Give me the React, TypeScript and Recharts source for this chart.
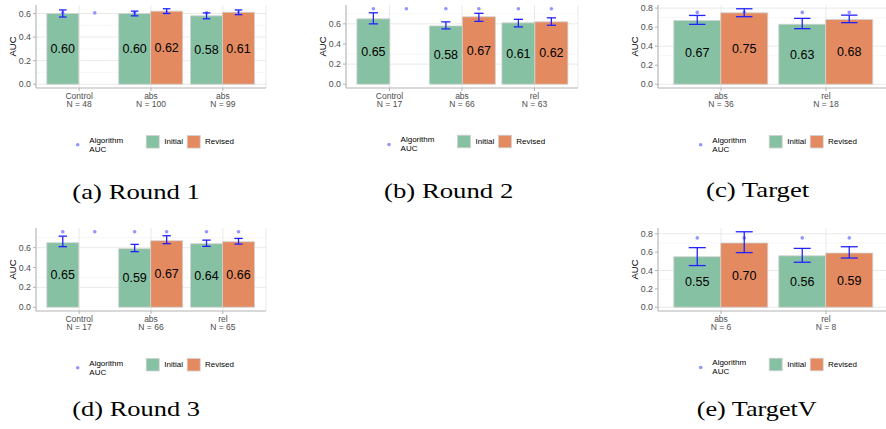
import React from "react";
import { BarChart, Bar, XAxis, YAxis, CartesianGrid, ErrorBar, LabelList } from "recharts";

const INITIAL_FILL = "#87c1a3";
const REVISED_FILL = "#e38a60";
const BAR_EDGE = "#d2d2d2";
const ERR_BLUE = "#2222ff";
const ALGO_DOT = "#9494ff";
const BORDER = "#b3b3b3";
const TICK_TEXT = "#4d4d4d";
const SANS = "'Liberation Sans', Arial, Helvetica, sans-serif";
const SERIF = "'Liberation Serif', 'DejaVu Serif', serif";

// (a) Round 1
const r1Groups = ["Control", "abs", "abs"];
const r1N = [48, 100, 99];
const r1Initial = [0.6, 0.6, 0.58];
const r1InitialLow = [0.57, 0.58, 0.555];
const r1InitialHigh = [0.63, 0.62, 0.605];
const r1Revised = [null, 0.62, 0.61];
const r1RevisedLow = [null, 0.6, 0.59];
const r1RevisedHigh = [null, 0.64, 0.63];
const r1Algorithm = [0.605, 0.605, 0.605];

// (b) Round 2
const r2Groups = ["Control", "abs", "rel"];
const r2N = [17, 66, 63];
const r2Initial = [0.65, 0.58, 0.61];
const r2InitialLow = [0.6, 0.55, 0.57];
const r2InitialHigh = [0.71, 0.62, 0.645];
const r2Revised = [null, 0.67, 0.62];
const r2RevisedLow = [null, 0.625, 0.586];
const r2RevisedHigh = [null, 0.705, 0.66];
const r2Algorithm = [0.75, 0.75, 0.75];

// (c) Target
const tGroups = ["abs", "rel"];
const tN = [36, 18];
const tInitial = [0.67, 0.63];
const tInitialLow = [0.629, 0.584];
const tInitialHigh = [0.723, 0.692];
const tRevised = [0.75, 0.68];
const tRevisedLow = [0.71, 0.647];
const tRevisedHigh = [0.793, 0.726];
const tAlgorithm = [0.755, 0.755];

// (d) Round 3
const r3Groups = ["Control", "abs", "rel"];
const r3N = [17, 66, 65];
const r3Initial = [0.65, 0.59, 0.64];
const r3InitialLow = [0.61, 0.56, 0.613];
const r3InitialHigh = [0.716, 0.633, 0.676];
const r3Revised = [null, 0.67, 0.66];
const r3RevisedLow = [null, 0.64, 0.636];
const r3RevisedHigh = [null, 0.72, 0.693];
const r3Algorithm = [0.76, 0.76, 0.76];

// (e) TargetV
const tvGroups = ["abs", "rel"];
const tvN = [6, 8];
const tvInitial = [0.55, 0.56];
const tvInitialLow = [0.454, 0.49];
const tvInitialHigh = [0.649, 0.641];
const tvRevised = [0.7, 0.59];
const tvRevisedLow = [0.595, 0.536];
const tvRevisedHigh = [0.822, 0.659];
const tvAlgorithm = [0.755, 0.755];

type Row = {
  key: string;
  initial: number;
  initialErr: [number, number];
  revised: number | null;
  revisedErr?: [number, number];
  algoInitial: number;
  algoRevised: number;
  top: number;
};

function buildRows(
  groups: string[],
  ns: number[],
  initial: number[],
  initialLow: number[],
  initialHigh: number[],
  revised: (number | null)[],
  revisedLow: (number | null)[],
  revisedHigh: (number | null)[],
  algorithm: number[]
): Row[] {
  return groups.map((g, i) => {
    const rv = revised[i];
    const rl = revisedLow[i];
    const rh = revisedHigh[i];
    return {
      key: `${g}\nN = ${ns[i]}`,
      initial: initial[i],
      initialErr: [initial[i] - initialLow[i], initialHigh[i] - initial[i]],
      revised: rv,
      revisedErr: rv != null && rl != null && rh != null ? [rv - rl, rh - rv] : undefined,
      algoInitial: algorithm[i],
      algoRevised: algorithm[i],
      top: Math.max(initialHigh[i], rh ?? 0, algorithm[i]),
    };
  });
}

const round1 = buildRows(r1Groups, r1N, r1Initial, r1InitialLow, r1InitialHigh, r1Revised, r1RevisedLow, r1RevisedHigh, r1Algorithm);
const round2 = buildRows(r2Groups, r2N, r2Initial, r2InitialLow, r2InitialHigh, r2Revised, r2RevisedLow, r2RevisedHigh, r2Algorithm);
const target = buildRows(tGroups, tN, tInitial, tInitialLow, tInitialHigh, tRevised, tRevisedLow, tRevisedHigh, tAlgorithm);
const round3 = buildRows(r3Groups, r3N, r3Initial, r3InitialLow, r3InitialHigh, r3Revised, r3RevisedLow, r3RevisedHigh, r3Algorithm);
const targetV = buildRows(tvGroups, tvN, tvInitial, tvInitialLow, tvInitialHigh, tvRevised, tvRevisedLow, tvRevisedHigh, tvAlgorithm);

const Y_AXIS_W = 36;
const X_AXIS_H = 27;
const CHART_H = 115;

const fmt2 = (v: any) => (v == null ? "" : Number(v).toFixed(2));

function CategoryTick(props: any) {
  const { x, y, payload } = props;
  const [group, count] = String(payload.value).split("\n");
  return (
    <text x={x} y={y} textAnchor="middle" fontSize={8.5} fill={TICK_TEXT} fontFamily={SANS}>
      <tspan x={x} dy={5.5}>{group}</tspan>
      <tspan x={x} dy={8.7}>{count}</tspan>
    </text>
  );
}

function AxisTitle(props: any) {
  const vb = props.viewBox || { x: 0, y: 0, width: 0, height: 0 };
  const cx = vb.x + 12;
  const cy = vb.y + vb.height / 2;
  return (
    <text
      x={cx}
      y={cy}
      transform={`rotate(-90, ${cx}, ${cy})`}
      textAnchor="middle"
      dominantBaseline="central"
      fontSize={9.5}
      fill="#000"
      fontFamily={SANS}
    >
      AUC
    </text>
  );
}

const AlgoDot = (p: any) => <circle cx={p.x + p.width / 2} cy={p.y} r={1.8} fill={ALGO_DOT} />;

type PanelProps = { rows: Row[]; left: number; top: number; width: number; cap: number; rightMargin: number };

function Panel({ rows, left, top, width, cap, rightMargin }: PanelProps) {
  const plotW = width - Y_AXIS_W - rightMargin;
  // ggplot-style discrete expansion: 0.6 of a category step on each side
  const pad = (plotW * 0.1) / (rows.length + 0.2);
  const peak = Math.max(...rows.map((r) => r.top));
  const domain: [number, number] = [-0.05 * peak, 1.05 * peak];
  const major: number[] = [];
  const minor: number[] = [];
  for (let i = 0; i * 0.1 <= domain[1] + 1e-9; i++) {
    const v = Number((i * 0.1).toFixed(1));
    if (i % 2 === 0) major.push(v);
    else minor.push(v);
  }

  return (
    <div style={{ position: "absolute", left, top }}>
      <BarChart
        width={width}
        height={CHART_H}
        data={rows}
        margin={{ top: 5, right: rightMargin, bottom: 0, left: 0 }}
        barCategoryGap="5%"
        barGap={0}
        style={{ fontFamily: SANS }}
      >
        <CartesianGrid horizontalValues={minor} vertical={false} stroke="#f3f3f3" strokeWidth={0.7} />
        <CartesianGrid horizontalValues={major} stroke="#e4e4e4" strokeWidth={0.8} />
        <XAxis
          dataKey="key"
          interval={0}
          padding={{ left: pad, right: pad }}
          height={X_AXIS_H}
          tickSize={3}
          tickMargin={2}
          tickLine={{ stroke: BORDER }}
          axisLine={{ stroke: BORDER }}
          tick={<CategoryTick />}
        />
        <XAxis
          xAxisId="top"
          orientation="top"
          dataKey="key"
          interval={0}
          padding={{ left: pad, right: pad }}
          height={0}
          tick={false}
          tickLine={false}
          axisLine={{ stroke: BORDER }}
        />
        <YAxis
          type="number"
          domain={domain}
          allowDataOverflow
          ticks={major}
          width={Y_AXIS_W}
          tickSize={3}
          tickMargin={2}
          tickLine={{ stroke: BORDER }}
          axisLine={{ stroke: BORDER }}
          tick={{ fontSize: 8.8, fill: TICK_TEXT }}
          tickFormatter={(v: number) => v.toFixed(1)}
          label={<AxisTitle />}
        />
        <YAxis
          yAxisId="right"
          orientation="right"
          type="number"
          domain={domain}
          allowDataOverflow
          width={0}
          tick={false}
          tickLine={false}
          axisLine={{ stroke: BORDER }}
        />
        <Bar dataKey="initial" fill={INITIAL_FILL} stroke={BAR_EDGE} strokeWidth={0.8} isAnimationActive={false}>
          <ErrorBar dataKey="initialErr" width={cap} stroke={ERR_BLUE} strokeWidth={1.3} />
          <LabelList dataKey="initial" position="center" formatter={fmt2} fontSize={12.5} fill="#000" />
        </Bar>
        <Bar dataKey="revised" fill={REVISED_FILL} stroke={BAR_EDGE} strokeWidth={0.8} isAnimationActive={false}>
          <ErrorBar dataKey="revisedErr" width={cap} stroke={ERR_BLUE} strokeWidth={1.3} />
          <LabelList dataKey="revised" position="center" formatter={fmt2} fontSize={12.5} fill="#000" />
        </Bar>
        <Bar xAxisId="top" dataKey="algoInitial" shape={AlgoDot} isAnimationActive={false} />
        <Bar xAxisId="top" dataKey="algoRevised" shape={AlgoDot} isAnimationActive={false} />
      </BarChart>
    </div>
  );
}

function KeyLegend({ x, y }: { x: number; y: number }) {
  return (
    <g fontFamily={SANS} fontSize={8} fill="#000">
      <circle cx={x} cy={y} r={1.8} fill={ALGO_DOT} />
      <text x={x + 11.6} y={y - 2.1}>Algorithm</text>
      <text x={x + 11.6} y={y + 6.9}>AUC</text>
      <rect x={x + 68.5} y={y - 9.3} width={13} height={12.6} fill={INITIAL_FILL} stroke={BAR_EDGE} strokeWidth={0.8} />
      <text x={x + 86.6} y={y - 0.4}>Initial</text>
      <rect x={x + 109.5} y={y - 9.3} width={13} height={12.6} fill={REVISED_FILL} stroke={BAR_EDGE} strokeWidth={0.8} />
      <text x={x + 127.3} y={y - 0.4}>Revised</text>
    </g>
  );
}

function Caption({ x, y, w, label }: { x: number; y: number; w: number; label: string }) {
  return (
    <text x={x} y={y} fontFamily={SERIF} fontSize={21} fill="#000" textLength={w} lengthAdjust="spacingAndGlyphs">
      {label}
    </text>
  );
}

export default function App() {
  return (
    <div
      style={{
        position: "absolute",
        left: 0,
        top: 0,
        width: 886,
        height: 429,
        overflow: "hidden",
        background: "#fff",
      }}
    >
      <svg width={886} height={429} style={{ position: "absolute", left: 0, top: 0 }}>
        <KeyLegend x={77.7} y={144.8} />
        <KeyLegend x={389} y={144.5} />
        <KeyLegend x={700.7} y={144.7} />
        <KeyLegend x={77.7} y={367.7} />
        <KeyLegend x={700.7} y={367.5} />
        <Caption x={72.3} y={198.5} w={127.7} label="(a) Round 1" />
        <Caption x={384} y={197.5} w={129.3} label="(b) Round 2" />
        <Caption x={706} y={196.8} w={103.3} label="(c) Target" />
        <Caption x={72.3} y={416} w={127.7} label="(d) Round 3" />
        <Caption x={696.7} y={415.5} w={120} label="(e) TargetV" />
      </svg>
      <Panel rows={round1} left={0} top={0} width={270} cap={3.8} rightMargin={4} />
      <Panel rows={round2} left={310} top={0} width={272} cap={4.6} rightMargin={4} />
      <Panel rows={target} left={622} top={0} width={267} cap={8.2} rightMargin={0} />
      <Panel rows={round3} left={0} top={223} width={270} cap={4.2} rightMargin={4} />
      <Panel rows={targetV} left={622} top={223} width={267} cap={8.5} rightMargin={0} />
    </div>
  );
}
